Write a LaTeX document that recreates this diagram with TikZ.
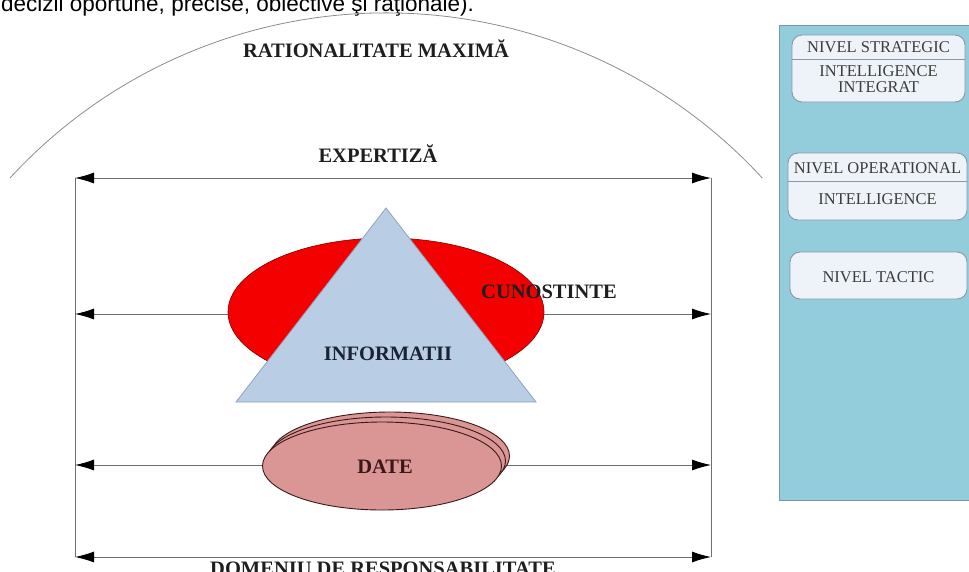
\documentclass[tikz,border=0pt]{standalone}
\usepackage{fontspec}
\setmainfont{Liberation Serif}
\newfontfamily\sansf{Liberation Sans}
\usetikzlibrary{arrows.meta,shapes.geometric}
\definecolor{linec}{HTML}{6E6E6E}
\definecolor{arcc}{HTML}{8C8C8C}
\definecolor{labelc}{HTML}{1E1E1E}
\definecolor{infc}{HTML}{1A2233}
\definecolor{redfill}{HTML}{F50000}
\definecolor{redline}{HTML}{7A0000}
\definecolor{trifill}{HTML}{B9CDE5}
\definecolor{triline}{HTML}{8EA3BC}
\definecolor{datefill}{HTML}{D99694}
\definecolor{dateline}{HTML}{3B1818}
\definecolor{panelfill}{HTML}{93CDDC}
\definecolor{panelline}{HTML}{7896A4}
\definecolor{boxfill}{HTML}{EEF3F9}
\definecolor{boxline}{HTML}{8797A6}
\definecolor{boxtext}{HTML}{3C3C3C}
\tikzset{
  bigtip/.tip={Latex[length=19pt,width=11pt,color=black]},
  dbl/.style={draw=linec, line width=0.9pt, bigtip-bigtip},
  vline/.style={draw=linec, line width=0.9pt},
  lbl/.style={font=\bfseries\fontsize{20.5}{24}\selectfont, text=labelc, anchor=base, inner sep=0pt},
  boxtxt/.style={font=\fontsize{16.5}{19}\selectfont, text=boxtext, anchor=base, inner sep=0pt},
  lvlbox/.style={draw=boxline, line width=0.9pt, fill=boxfill, rounded corners=10pt, inner sep=0pt},
  dateell/.style={draw=dateline, line width=0.9pt, fill=datefill, ellipse, inner sep=0pt, minimum width=239pt, minimum height=88pt}
}
\begin{document}
\begin{tikzpicture}[x=1pt,y=-1pt]
\useasboundingbox (0,0) rectangle (969,571);
\clip (0,0) rectangle (969,571);

% top sentence (cut off)
\node[font=\sansf\fontsize{22.5}{26}\selectfont, anchor=base west, inner sep=0pt] (sent) at (1,11) {decizii oportune, precise, obiective şi raţionale).};

% big arc
\draw[draw=arcc, line width=0.8pt] (10,178) arc[start angle=-137.4, end angle=-42.6, radius=511];

% coordinates
\coordinate (L1) at (75,178); \coordinate (R1) at (711,178);
\coordinate (L2) at (75,314); \coordinate (R2) at (711,314);
\coordinate (L3) at (75,465); \coordinate (R3) at (711,465);
\coordinate (L4) at (75,557); \coordinate (R4) at (711,557);

% verticals
\draw[vline] (L1) -- (L4);
\draw[vline] (R1) -- (R4);

% arrows
\draw[dbl] (L1) -- (R1);
\draw[dbl] (L2) -- (R2);
\draw[dbl] (L3) -- (R3);
\draw[dbl] (L4) -- (R4);

% red ellipse
\node[ellipse, draw=redline, line width=0.6pt, fill=redfill, inner sep=0pt, minimum width=316pt, minimum height=148pt] (cun) at (386,312) {};

% triangle
\coordinate (tA) at (386,208);
\coordinate (tB) at (236,402);
\coordinate (tC) at (536,402);
\draw[draw=triline, line width=0.8pt, fill=trifill] (tA) -- (tB) -- (tC) -- cycle;

% labels
\node[lbl] (rat) at (376,57) {RATIONALITATE MAXIMĂ};
\node[lbl] (exp) at (378,162) {EXPERTIZĂ};
\node[lbl] (cunt) at (549,298) {CUNOSTINTE};
\node[lbl, text=infc] (inf) at (388,360) {INFORMATII};

% DATE stacked ellipses
\node[dateell] (d3) at (390,456) {};
\node[dateell] (d2) at (386,461) {};
\node[dateell] (d1) at (382,466) {};
\node[lbl, text=dateline] (date) at (385,473) {DATE};

\node[lbl] (dom) at (383,575) {DOMENIU DE RESPONSABILITATE};

% right panel
\node[draw=panelline, line width=1.2pt, fill=panelfill, inner sep=0pt, minimum width=201pt, minimum height=475pt, anchor=north west] (panel) at (779,25) {};

\node[lvlbox, minimum width=173pt, minimum height=67pt] (b1) at (878.5,68.5) {};
\draw[draw=boxline, line width=0.9pt] (b1.west |- 0,59) -- (b1.east |- 0,59);
\node[boxtxt] (b1a) at (878.5,52) {NIVEL STRATEGIC};
\node[boxtxt] (b1b) at (878.5,76) {INTELLIGENCE};
\node[boxtxt] (b1c) at (878.5,92) {INTEGRAT};

\node[lvlbox, minimum width=179pt, minimum height=67pt] (b2) at (877.5,186.5) {};
\draw[draw=boxline, line width=0.9pt] (b2.west |- 0,181) -- (b2.east |- 0,181);
\node[boxtxt] (b2a) at (877.5,173) {NIVEL OPERATIONAL};
\node[boxtxt] (b2b) at (877.5,204) {INTELLIGENCE};

\node[lvlbox, minimum width=177pt, minimum height=47pt] (b3) at (878.5,275.5) {};
\node[boxtxt] (b3a) at (878.5,282) {NIVEL TACTIC};
\end{tikzpicture}
\end{document}
